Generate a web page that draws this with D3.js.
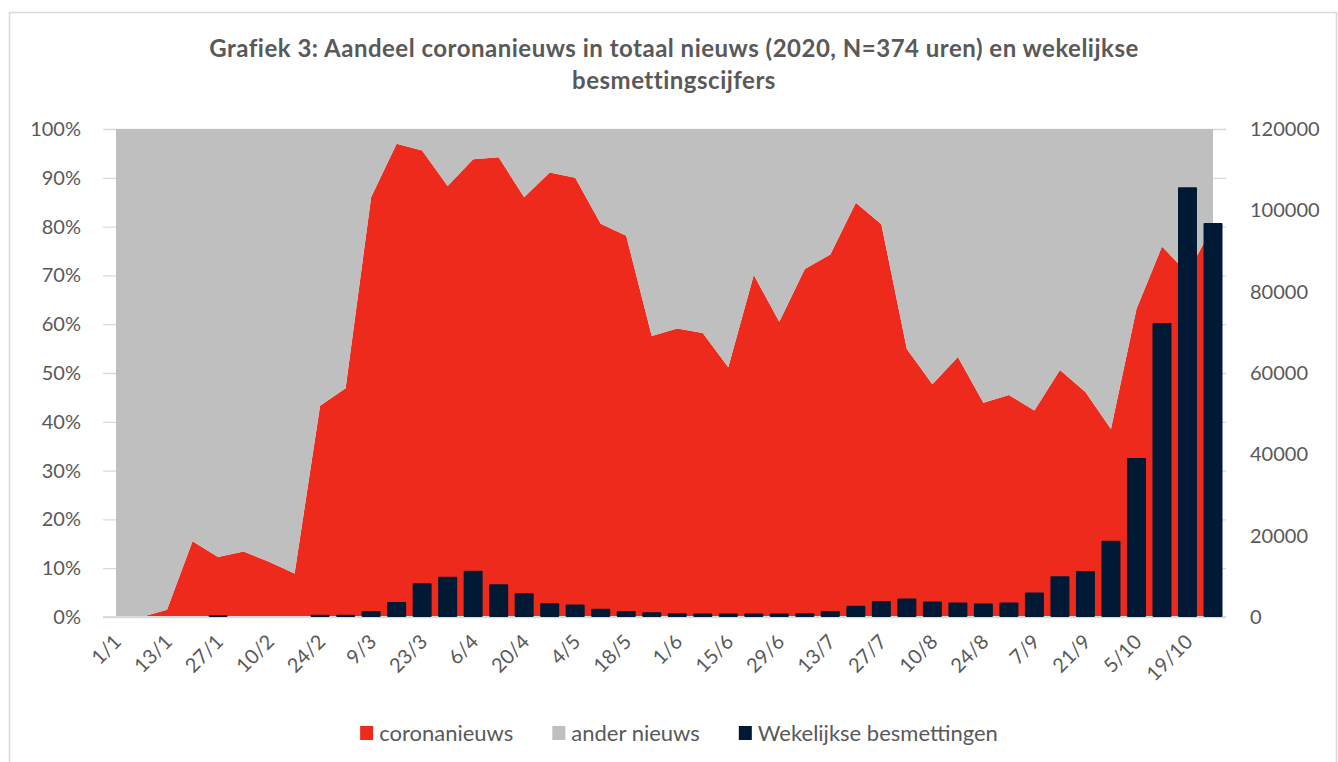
<!DOCTYPE html>
<html>
<head>
<meta charset="utf-8">
<script src="https://cdn.jsdelivr.net/npm/d3@7"></script>
<style>
  body { margin: 0; background: #fff; }
  svg text { font-family: Lato, "Open Sans", sans-serif; fill: #595959; }
</style>
</head>
<body>
<svg id="chart"></svg>
<script>
// week labels (start of week, 2020)
const weeks = ["1/1","6/1","13/1","20/1","27/1","3/2","10/2","17/2","24/2","2/3","9/3","16/3","23/3","30/3",
  "6/4","13/4","20/4","27/4","4/5","11/5","18/5","25/5","1/6","8/6","15/6","22/6","29/6","6/7","13/7",
  "20/7","27/7","3/8","10/8","17/8","24/8","31/8","7/9","14/9","21/9","28/9","5/10","12/10","19/10","26/10"];

// share of corona news in total news (%)
const coronaShare = [0, 0, 1.5, 15.5, 12.3, 13.4, 11.3, 8.9, 43.3, 46.9, 86, 97, 95.6, 88.3,
  93.8, 94.2, 86, 91.1, 90, 80.6, 78.1, 57.6, 59.1, 58.2, 51.2, 70.1, 60.5, 71.3, 74.3,
  84.9, 80.5, 54.9, 47.7, 53.3, 43.9, 45.5, 42.3, 50.6, 46.1, 38.5, 63.1, 75.9, 70.5, 80];

// weekly infections
const weeklyCases = [0, 0, 0, 0, 400, 0, 0, 0, 550, 570, 1500, 3680, 8310, 9880,
  11380, 8040, 5850, 3390, 3050, 2000, 1480, 1150, 900, 880, 880, 880, 880, 900, 1450,
  2750, 3950, 4530, 3840, 3570, 3300, 3570, 6020, 10050, 11290, 18760, 39120, 72310, 105700, 96900];

const leftTicks = [0, 10, 20, 30, 40, 50, 60, 70, 80, 90, 100];
const rightTicks = [0, 20000, 40000, 60000, 80000, 100000, 120000];

const seriesNames = ["coronanieuws", "ander nieuws", "Wekelijkse besmettingen"];
const colors = ["#EE2A1D", "#BFBFBF", "#001A35"];

class ComboChart {
  constructor(_config) {
    this.config = {
      parentElement: _config.parentElement,
      containerWidth: _config.containerWidth || 1338,
      containerHeight: _config.containerHeight || 762,
      margin: { top: 129, right: 125, left: 116, bottom: 145 }
    };
    this.initVis();
  }

  initVis() {
    let vis = this;
    vis.width = vis.config.containerWidth - vis.config.margin.left - vis.config.margin.right;
    vis.height = vis.config.containerHeight - vis.config.margin.top - vis.config.margin.bottom;

    vis.svg = d3.select(vis.config.parentElement)
      .attr('width', vis.config.containerWidth)
      .attr('height', vis.config.containerHeight);

    // outer border of the chart
    vis.svg.append('rect')
      .attr('x', 9.5).attr('y', 12.5)
      .attr('width', 1327).attr('height', 780)
      .attr('fill', 'none')
      .attr('stroke', '#D9D9D9')
      .attr('stroke-width', 1.5);

    vis.chart = vis.svg.append('g')
      .attr('transform', `translate(${vis.config.margin.left}, ${vis.config.margin.top})`);

    vis.xScale = d3.scalePoint().domain(weeks).range([0, vis.width]);
    vis.yScale = d3.scaleLinear().domain([0, 100]).range([vis.height, 0]);
    vis.y2Scale = d3.scaleLinear().domain([0, 120000]).range([vis.height, 0]);

    vis.updateVis();
  }

  updateVis() {
    let vis = this;

    // gridlines (with small overhang left and right)
    vis.chart.append('g')
      .attr('class', 'grid')
      .call(d3.axisLeft(vis.yScale).tickValues(leftTicks).tickSize(-(vis.width + 26)).tickFormat(''))
      .attr('transform', 'translate(-13,0)')
      .call(g => g.select('.domain').remove())
      .call(g => g.selectAll('line').attr('stroke', '#D9D9D9').attr('stroke-width', 1.3));

    // stacked areas: coronanieuws + ander nieuws = 100%
    let rows = weeks.map((w, i) => ({ week: w, corona: coronaShare[i], ander: 100 - coronaShare[i] }));
    let stacked = d3.stack().keys(['corona', 'ander'])(rows);

    let area = d3.area()
      .x(d => vis.xScale(d.data.week))
      .y0(d => vis.yScale(d[0]))
      .y1(d => vis.yScale(d[1]));

    vis.chart.selectAll('.area')
      .data(stacked)
      .join('path')
        .attr('class', 'area')
        .attr('fill', (d, i) => colors[i])
        .attr('d', area);

    // zero line
    vis.chart.append('line')
      .attr('x1', -13).attr('x2', vis.width + 13)
      .attr('y1', vis.yScale(0)).attr('y2', vis.yScale(0))
      .attr('stroke', '#D9D9D9').attr('stroke-width', 2);

    // bars on secondary axis
    let barWidth = vis.xScale.step() * 0.745;
    vis.chart.selectAll('.bar')
      .data(weeks)
      .join('rect')
        .attr('class', 'bar')
        .attr('fill', colors[2])
        .attr('rx', 1)
        .attr('x', (w) => vis.xScale(w) - barWidth / 2)
        .attr('width', barWidth)
        .attr('y', (w, i) => vis.y2Scale(weeklyCases[i]))
        .attr('height', (w, i) => vis.height - vis.y2Scale(weeklyCases[i]));

    // left axis labels
    vis.chart.append('g')
      .call(d3.axisLeft(vis.yScale).tickValues(leftTicks).tickSize(0).tickPadding(35).tickFormat(d => d + '%'))
      .call(g => g.select('.domain').remove())
      .call(g => g.selectAll('text').attr('font-size', 20).style('fill', '#595959').attr('font-family', 'Lato'));

    // right axis labels
    vis.chart.append('g')
      .attr('transform', `translate(${vis.width}, 0)`)
      .call(d3.axisRight(vis.y2Scale).tickValues(rightTicks).tickSize(0).tickPadding(37).tickFormat(d3.format('d')))
      .call(g => g.select('.domain').remove())
      .call(g => g.selectAll('text').attr('font-size', 20).style('fill', '#595959').attr('font-family', 'Lato'));

    // x labels, every second week, rotated
    vis.chart.append('g')
      .attr('transform', `translate(0, ${vis.height})`)
      .call(d3.axisBottom(vis.xScale).tickValues(weeks.filter((w, i) => i % 2 === 0)).tickSize(0).tickPadding(0))
      .call(g => g.select('.domain').remove())
      .call(g => g.selectAll('text')
        .attr('font-size', 20).style('fill', '#595959').attr('font-family', 'Lato')
        .attr('text-anchor', 'end')
        .attr('dy', 0)
        .attr('y', 0)
        .attr('transform', 'translate(6, 26) rotate(-45)'));

    // title
    let title = vis.svg.append('text')
      .attr('text-anchor', 'middle')
      .attr('font-size', 24)
      .attr('letter-spacing', 0.5)
      .attr('font-weight', 'bold');
    title.append('tspan').attr('x', 674).attr('y', 57)
      .text('Grafiek 3: Aandeel coronanieuws in totaal nieuws (2020, N=374 uren) en wekelijkse');
    title.append('tspan').attr('x', 674).attr('y', 89).text('besmettingscijfers');

    // legend
    let legend = vis.svg.append('g');
    let xPos = 0;
    seriesNames.forEach((name, i) => {
      let item = legend.append('g').attr('transform', `translate(${xPos}, 0)`);
      item.append('rect').attr('x', 0).attr('y', -7).attr('width', 13).attr('height', 14).attr('fill', colors[i]);
      let t = item.append('text').attr('x', 19).attr('y', 7.5).attr('font-size', 22).text(name);
      xPos += 19 + t.node().getComputedTextLength() + 39;
    });
    let legendWidth = xPos - 39;
    legend.attr('transform', `translate(${679 - legendWidth / 2}, 733)`);
  }
}

new ComboChart({ parentElement: '#chart' });
</script>
</body>
</html>
